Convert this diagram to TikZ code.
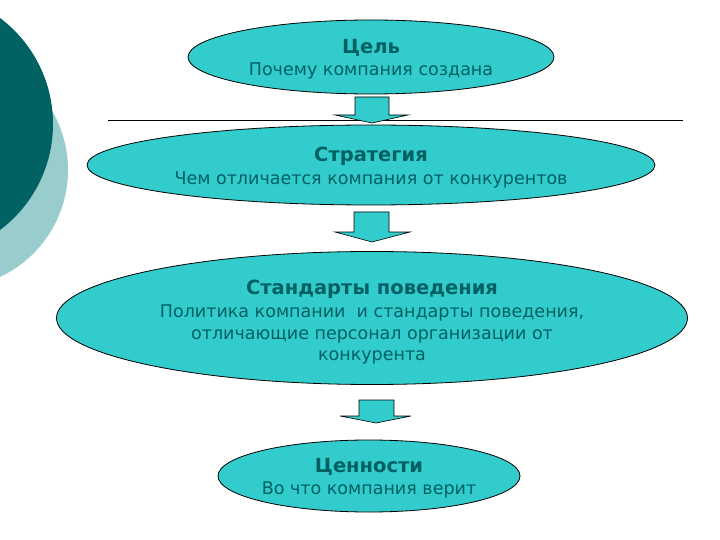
\documentclass[tikz,border=0pt]{standalone}
\usepackage{fontspec}
\setmainfont{DejaVu Sans}
\usetikzlibrary{shapes.geometric}
\definecolor{darkteal}{RGB}{0,98,98}
\definecolor{lightteal}{RGB}{153,204,204}
\definecolor{fillteal}{RGB}{51,204,204}
\definecolor{txtteal}{RGB}{0,96,100}
\tikzset{
  oval/.style={ellipse, draw=black, line width=0.8pt, fill=fillteal, inner sep=0pt},
  ovaltext/.style={inner sep=0pt, text=txtteal, align=center, yshift=-2.5pt,
    font=\fontsize{17.5}{21.3}\selectfont},
  blockarrow/.style={draw=black, line width=0.6pt, fill=fillteal, line join=miter},
}
\newcommand{\ttl}[1]{{\bfseries\fontsize{19.5}{23}\selectfont #1}}
\begin{document}
\begin{tikzpicture}[x=1pt,y=-1pt]
\useasboundingbox (0,0) rectangle (720,540);
% left decoration
\fill[lightteal] (-50,170) circle (118);
\fill[darkteal] (-79.5,124) circle (132.5);
% horizontal rule
\coordinate (hl1) at (108,120);
\coordinate (hr1) at (683,120);
\draw[line width=0.8pt] (hl1) -- (hr1);
% ovals
\node[oval, minimum width=366, minimum height=74] (cel) at (371,57) {};
\node[ovaltext] (celt) at (cel.center) {\ttl{Цель}\\[1pt]Почему компания создана};
\node[oval, minimum width=568, minimum height=80] (strat) at (371,165) {};
\node[ovaltext] (stratt) at (strat.center) {\ttl{Стратегия}\\[1pt]Чем отличается компания от конкурентов};
\node[oval, minimum width=631, minimum height=133] (std) at (372,318) {};
\node[ovaltext, yshift=-1.5pt] (stdt) at (std.center)
  {\ttl{Стандарты поведения}\\[2pt]Политика компании\ \ и стандарты поведения,\\отличающие персонал организации от\\конкурента};
\node[oval, minimum width=302, minimum height=72] (cen) at (369,476) {};
\node[ovaltext] (cent) at (cen.center) {\ttl{Ценности}\\[1pt]Во что компания верит};
% block arrows
\draw[blockarrow] (355,97) -- (389,97) -- (389,115) -- (408,115) -- (372,123) -- (335,115) -- (355,115) -- cycle;
\draw[blockarrow] (354,212) -- (389,212) -- (389,232) -- (410,232) -- (372,242) -- (335,232) -- (354,232) -- cycle;
\draw[blockarrow] (359,400) -- (394,400) -- (394,416) -- (411,416) -- (376,423) -- (340,416) -- (359,416) -- cycle;
\end{tikzpicture}
\end{document}
